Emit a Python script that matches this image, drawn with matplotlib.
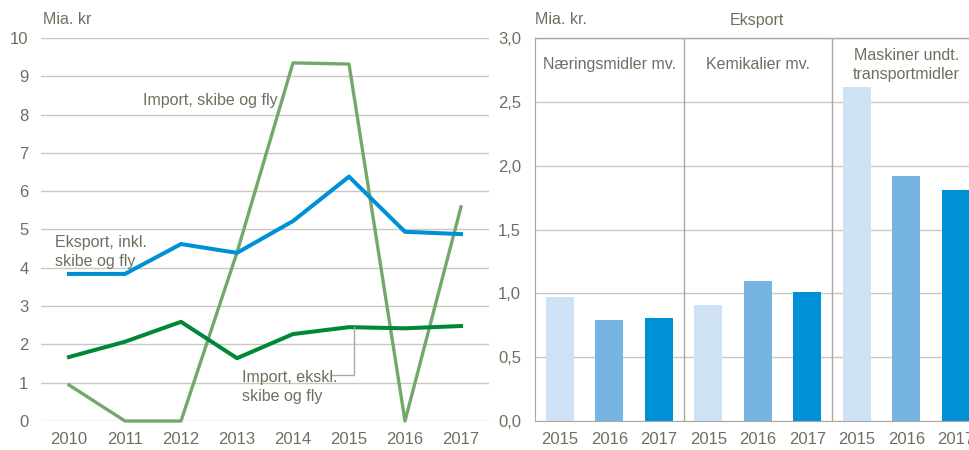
import matplotlib.pyplot as plt

plt.rcParams['font.family'] = ['Liberation Sans', 'DejaVu Sans']

TXT = '#6f6f60'
GRID = '#c8c8be'
FRAME = '#a9a9a0'

# left chart data
years = [2010, 2011, 2012, 2013, 2014, 2015, 2016, 2017]
import_skibe = [0.94, 0.0, 0.0, 4.4, 9.35, 9.32, 0.0, 5.59]
eksport_inkl = [3.84, 3.84, 4.62, 4.39, 5.22, 6.38, 4.94, 4.88]
import_ekskl = [1.67, 2.07, 2.59, 1.64, 2.27, 2.45, 2.42, 2.48]

# right chart data
groups = ['Næringsmidler mv.', 'Kemikalier mv.', 'Maskiner undt.\ntransportmidler']
bar_years = ['2015', '2016', '2017']
eksport_vals = [
    [0.97, 0.79, 0.81],
    [0.91, 1.10, 1.01],
    [2.62, 1.92, 1.81],
]
bar_colors = ['#cfe2f5', '#76b5e3', '#0090d6']

W, H = 969, 450
fig = plt.figure(figsize=(W / 100, H / 100), dpi=100)

# ---- left: line chart
ax = fig.add_axes([41 / W, 29 / H, 448 / W, 383 / H])
ax.set_xlim(2009.5, 2017.5)
ax.set_ylim(0, 10)
ax.set_yticks(range(0, 11))
ax.set_xticks(years)
ax.grid(axis='y', color=GRID, lw=1)
ax.set_axisbelow(True)
for s in ax.spines.values():
    s.set_visible(False)
ax.tick_params(length=0, colors=TXT, labelsize=12)
ax.tick_params(axis='y', pad=9)
ax.tick_params(axis='x', pad=8)

ax.plot(years, import_skibe, color='#72a96b', lw=2.4, clip_on=False)
ax.plot(years, eksport_inkl, color='#0090d6', lw=2.9, clip_on=False)
ax.plot(years, import_ekskl, color='#008838', lw=2.9, clip_on=False)

ax.text(2011.32, 8.38, 'Import, skibe og fly', color=TXT, fontsize=11.5, va='center')
ax.text(2009.75, 4.41, 'Eksport, inkl.\nskibe og fly', color=TXT, fontsize=11.5,
        va='center', linespacing=1.3)
ax.text(2013.09, 0.89, 'Import, ekskl.\nskibe og fly', color=TXT, fontsize=11.5,
        va='center', linespacing=1.3)
ax.plot([2014.68, 2015.09, 2015.09], [1.2, 1.2, 2.45], color=FRAME, lw=1)
fig.text(43 / W, 1 - 20 / H, 'Mia. kr', color=TXT, fontsize=11.5, va='center')

# ---- right: bars
ax2 = fig.add_axes([535 / W, 29 / H, 445.5 / W, 383 / H])
ax2.set_xlim(-0.5, 8.5)
ax2.set_ylim(0, 3.0)
ax2.set_yticks([0, 0.5, 1.0, 1.5, 2.0, 2.5, 3.0])
ax2.set_yticklabels([f'{v:.1f}'.replace('.', ',') for v in ax2.get_yticks()])
ax2.grid(axis='y', color=GRID, lw=1)
ax2.set_axisbelow(True)
for k in ['top', 'right']:
    ax2.spines[k].set_visible(False)
for k in ['left', 'bottom']:
    ax2.spines[k].set_color(FRAME)
ax2.axhline(3.0, color=FRAME, lw=1, clip_on=False)
ax2.tick_params(length=0, colors=TXT, labelsize=12)
ax2.tick_params(axis='y', pad=10)
ax2.tick_params(axis='x', pad=8)

pos = []
labels = []
for g, vals in enumerate(eksport_vals):
    for i, v in enumerate(vals):
        x = g * 3 + i
        ax2.bar(x, v, width=0.57, color=bar_colors[i], zorder=2)
        pos.append(x)
        labels.append(bar_years[i])
    ax2.text(g * 3 + 1, 2.79, groups[g], color=TXT, fontsize=11.5,
             ha='center', va='center', linespacing=1.3)
for sep in [2.5, 5.5]:
    ax2.axvline(sep, color=FRAME, lw=1)
ax2.set_xticks(pos)
ax2.set_xticklabels(labels)

fig.text(535 / W, 1 - 20 / H, 'Mia. kr.', color=TXT, fontsize=11.5, va='center')
fig.text(757 / W, 1 - 20 / H, 'Eksport', color=TXT, fontsize=11.5, va='center', ha='center')

fig.savefig('out.png', dpi=100)
